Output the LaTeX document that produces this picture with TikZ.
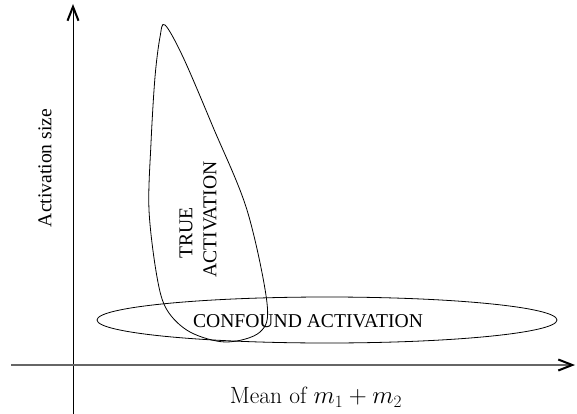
\documentclass[tikz,border=0pt]{standalone}
\usepackage{fontspec}
\newfontfamily\tms{Liberation Serif}
\usetikzlibrary{arrows.meta}
\begin{document}
\begin{tikzpicture}[x=1pt,y=-1pt,
    axis/.style={-{Straight Barb[length=14pt,width=11pt,line width=2pt,color=black]}},
    blob/.style={line width=0.8pt},
    lbl/.style={font=\tms\fontsize{19.6}{21}\selectfont,inner sep=0pt}]
  \useasboundingbox (0,0) rectangle (577,414);
  % axes
  \coordinate (ybot) at (73,414);
  \coordinate (ytop) at (73,4);
  \coordinate (xleft) at (11,365);
  \coordinate (xright) at (575,365);
  \draw[axis,line width=0.9pt] (ybot) -- (ytop);
  \draw[axis,line width=1.8pt,black!60] (xleft) -- (xright);
  % true activation (teardrop)
  \draw[blob] plot[smooth cycle,tension=0.55] coordinates {(165,25) (183,57) (213,127) (247,210) (267,303)
    (260,332) (226,342) (190,332) (167,310) (157,277) (149,210) (151,143) (155,77) (160,37)};
  % confound activation
  \draw[blob] (327,320) ellipse[x radius=230,y radius=23];
  \node[lbl] (conf) at (308,321.5) {CONFOUND ACTIVATION};
  \node[lbl,rotate=90] (true) at (186,233) {TRUE};
  \node[lbl,rotate=90] (act) at (210,219.5) {ACTIVATION};
  \node[lbl,rotate=90] (ylbl) at (45,168) {Activation size};
  \node[font=\fontsize{23.5}{25}\selectfont,inner sep=0pt] (xlbl) at (316,397) {Mean of $m_1+m_2$};
\end{tikzpicture}
\end{document}
